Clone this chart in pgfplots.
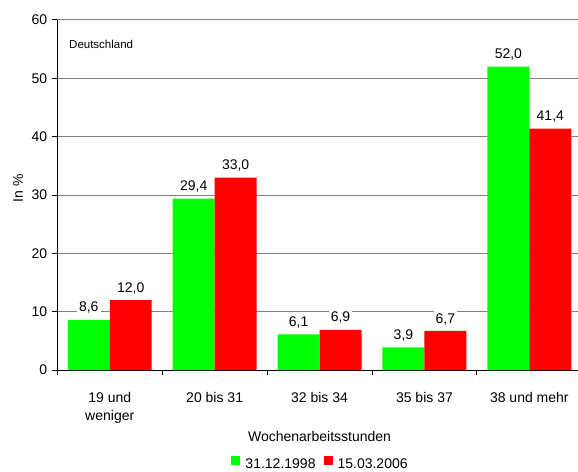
\documentclass[border=0pt]{standalone}
\usepackage{fontspec}
\setmainfont{Liberation Sans}
\usepackage{pgfplots}
\pgfplotsset{compat=1.18}
\definecolor{barG}{HTML}{00FF00}
\definecolor{barR}{HTML}{FF0000}
\definecolor{gridc}{HTML}{808080}
\begin{document}
\begin{tikzpicture}
\begin{axis}[
  scale only axis, width=524.5pt, height=350pt,
  at={(0,0)}, anchor=south west,
  xmin=-0.5, xmax=4.5, ymin=0, ymax=60,
  ybar, bar width=0.4,
  axis lines=left, axis line style={-, black, line width=1pt},
  ymajorgrids, grid style={gridc, line width=1pt},
  ytick={0,10,...,60},
  xtick={0,1,2,3,4},
  xticklabels={{19 und\\weniger},{20 bis 31},{32 bis 34},{35 bis 37},{38 und mehr}},
  minor xtick={-0.5,0.5,1.5,2.5,3.5,4.5},
  tick align=outside, major tick length=5pt, minor tick length=5pt,
  every major x tick/.append style={draw=none},
  every minor x tick/.append style={black, line width=1pt},
  every major y tick/.append style={black, line width=1pt},
  tick label style={font=\fontsize{14}{18}\selectfont},
  xticklabel style={align=center, inner sep=0pt, anchor=north, yshift=-17pt},
  yticklabel style={inner sep=0pt, anchor=east, xshift=-5pt},
  /pgf/number format/assume math mode=true,
  xlabel={Wochenarbeitsstunden},
  xlabel style={at={(axis description cs:0.5,0)}, anchor=base, inner sep=0pt, yshift=-71.7pt, font=\fontsize{14}{16}\selectfont},
  ylabel={In \%},
  ylabel style={at={(axis description cs:0,0.52)}, anchor=center, inner sep=0pt, yshift=39.3pt, font=\fontsize{14}{16}\selectfont},
  nodes near coords={\pgfmathprintnumber[fixed,fixed zerofill,precision=1,use comma,assume math mode=true]{\pgfplotspointmeta}},
  nodes near coords style={font=\fontsize{14}{16}\selectfont, fill=white, inner sep=2pt, text depth=0pt, anchor=south, yshift=5.7pt},
  legend columns=2,
  legend image code/.code={\fill[#1] (0pt,-1pt) rectangle (9pt,8pt);},
  legend style={at={(axis description cs:0.5,0)}, anchor=center, yshift=-93pt, draw=none, fill=none, inner sep=0pt, outer sep=0pt,
    font=\fontsize{14}{16}\selectfont, nodes={inner sep=0pt},
    /tikz/every odd column/.append style={column sep=5pt},
    /tikz/every even column/.append style={column sep=8pt}},
]
\addplot[fill=barG, draw=none, bar shift=-0.2] coordinates {(0,8.6) (1,29.4) (2,6.1) (3,3.9) (4,52.0)};
\addplot[fill=barR, draw=none, bar shift=0.2] coordinates {(0,12.0) (1,33.0) (2,6.9) (3,6.7) (4,41.4)};
\legend{31.12.1998, 15.03.2006}
\node[anchor=base west, inner sep=0pt, font=\fontsize{11.5}{13}\selectfont, xshift=11.7pt, yshift=-28.3pt] at (rel axis cs:0,1) {Deutschland};
\end{axis}
\pgfresetboundingbox
\path[use as bounding box] (-57.3pt,-101pt) rectangle (520.7pt,370pt);
\end{tikzpicture}
\end{document}
